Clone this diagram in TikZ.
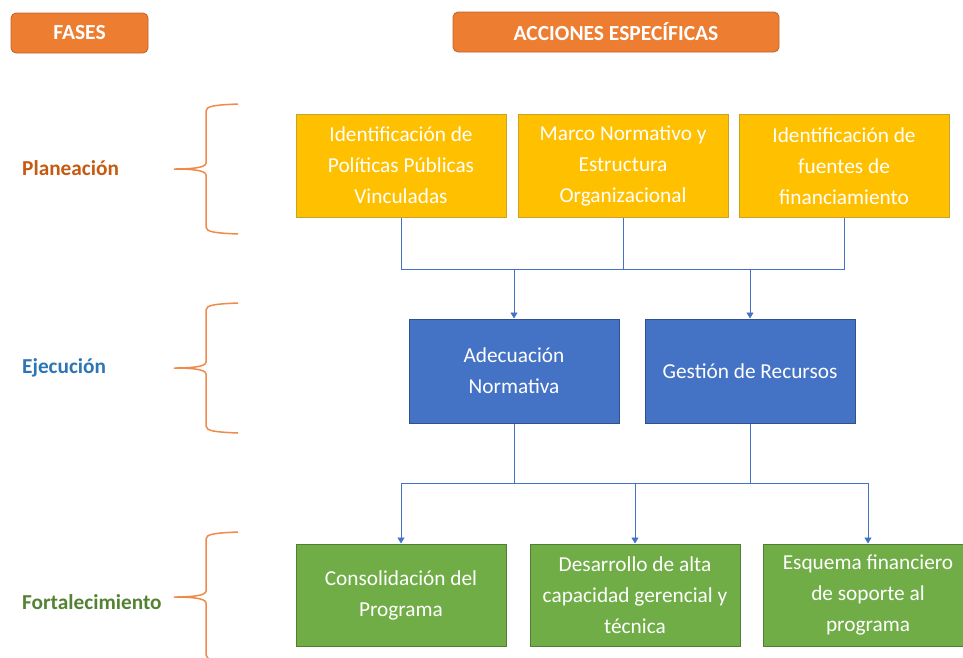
\documentclass[tikz,border=0pt]{standalone}
\usepackage{fontspec}
\setmainfont{Carlito}
\usetikzlibrary{arrows.meta}
\definecolor{hdrfill}{HTML}{ED7D31}
\definecolor{hdrline}{HTML}{C0652A}
\definecolor{yelfill}{HTML}{FFC000}
\definecolor{yelline}{HTML}{C9A227}
\definecolor{blufill}{HTML}{4472C4}
\definecolor{bluline}{HTML}{2F528F}
\definecolor{grnfill}{HTML}{70AD47}
\definecolor{grnline}{HTML}{507E32}
\definecolor{planc}{HTML}{C55A11}
\definecolor{ejec}{HTML}{2E75B6}
\definecolor{fortc}{HTML}{548235}
\definecolor{bracec}{HTML}{F08A4B}
\definecolor{connc}{HTML}{4472C4}
\tikzset{
  txt/.style={font=\fontsize{21.3}{31}\selectfont, text=white, align=center, inner sep=0pt},
  hdr/.style={txt, font=\fontsize{21.5}{24}\selectfont\bfseries, fill=hdrfill, draw=hdrline, line width=0.8pt, rounded corners=5pt, minimum height=40pt},
  ybox/.style={txt, fill=yelfill, draw=yelline, line width=1pt, minimum width=210pt, minimum height=103pt},
  bbox/.style={txt, fill=blufill, draw=bluline, line width=1pt, minimum width=210pt, minimum height=104pt},
  gbox/.style={txt, fill=grnfill, draw=grnline, line width=1pt, minimum width=210pt, minimum height=102pt},
  phase/.style={anchor=west, font=\fontsize{21.3}{25}\selectfont\bfseries, inner sep=0pt},
  conn/.style={draw=connc, line width=0.9pt},
  arr/.style={conn, -{Triangle[width=7pt,length=6pt]}},
  bracel/.style={draw=bracec, line width=1.5pt}
}
\begin{document}
\begin{tikzpicture}[x=1pt,y=-1pt]
\useasboundingbox (0,0) rectangle (963,657);
% headers
\node[hdr, minimum width=137pt] (fases) at (79.5,33) {FASES};
\node[hdr, minimum width=326pt] (acc) at (616,32) {ACCIONES ESPECÍFICAS};
% phase labels
\node[phase, text=planc] (plan) at (22,168) {Planeación};
\node[phase, text=ejec] (ejecl) at (22,368) {Ejecución};
\node[phase, text=fortc] (fort) at (22,602) {Fortalecimiento};
% braces
\foreach \dy in {0,199,428}{
  \begin{scope}[shift={(0,\dy)}]
  \draw[bracel] (238,104) .. controls (215,105) and (206,106) .. (206,111) -- (206,163)
     .. controls (206,168) and (190,169) .. (174,169)
     .. controls (190,169) and (206,170) .. (206,175) -- (206,227)
     .. controls (206,232) and (215,233) .. (238,234);
  \end{scope}
}
% yellow
\node[ybox] (y1) at (401,165.5) {Identificación de\\Políticas Públicas\\Vinculadas};
\node[ybox] (y2) at (623,166) {Marco Normativo y\\Estructura\\Organizacional};
\node[ybox] (y3) at (844,166) {Identificación de\\fuentes de\\financiamiento};
% blue
\node[bbox] (b1) at (514,371) {Adecuación\\Normativa};
\node[bbox] (b2) at (750,371) {Gestión de Recursos};
% green
\node[gbox] (g1) at (401,595) {Consolidación del\\Programa};
\node[gbox] (g2) at (635,595) {Desarrollo de alta\\capacidad gerencial y\\técnica};
\node[gbox] (g3) at (868,595) {Esquema financiero\\de soporte al\\programa};
% connectors
\coordinate (jy) at (0,269);
\coordinate (jg) at (0,483);
\draw[conn] (y1.south) |- (y3.south |- jy) -- (y3.south);
\draw[conn] (y2.south) -- (y2.south |- jy);
\draw[arr] (b1.north |- jy) -- (b1.north);
\draw[arr] (b2.north |- jy) -- (b2.north);
\draw[conn] (b1.south) -- (b1.south |- jg);
\draw[conn] (b2.south) -- (b2.south |- jg);
\draw[conn] (g1.north |- jg) -- (g3.north |- jg);
\draw[arr] (g1.north |- jg) -- (g1.north);
\draw[arr] (g2.north |- jg) -- (g2.north);
\draw[arr] (g3.north |- jg) -- (g3.north);
\end{tikzpicture}
\end{document}
